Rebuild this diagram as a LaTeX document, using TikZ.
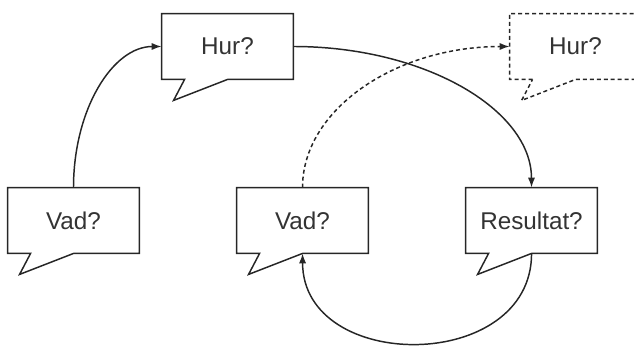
\documentclass[tikz,border=0pt]{standalone}
\usepackage{fontspec}
\setmainfont{Liberation Sans}
\usetikzlibrary{arrows.meta,calc}

\newcommand{\talkbox}[4][]{%
  \node[box] (#2) at (#3) {#4};
  \draw[#1] ($(#2.south west)+(23,0)$) -- (#2.south west) -- (#2.north west)
    -- (#2.north east) -- (#2.south east) -- ($(#2.south west)+(66,0)$) coordinate (#2-tail)
    -- ($(#2.south west)+(12,-21)$) -- cycle;
}

\begin{document}
\begin{tikzpicture}[x=0.016667cm,y=0.016667cm,
  box/.style={minimum width=2.183cm,minimum height=1.083cm,inner sep=0pt,
    font=\fontsize{11.5}{13}\selectfont,text=black!80},
  line/.style={line width=0.7pt,black!85},
  arr/.style={line,-{Latex[length=4.7pt,width=3.4pt]}},
  dots/.style={dash pattern=on 1.9pt off 1.4pt}]
  \clip (0,0) rectangle (634,-345);
  \talkbox[line]{vad1}{73.5,-220.5}{Vad?}
  \talkbox[line]{hur1}{227.5,-46.5}{Hur?}
  \talkbox[line,dots]{hur2}{575.5,-46.5}{Hur?}
  \talkbox[line]{vad2}{302.5,-220.5}{Vad?}
  \talkbox[line]{res}{531.5,-220.5}{Resultat?}
  \draw[arr] (vad1.north) .. controls +(0,78) and +(-49,0) .. (hur1.west);
  \draw[arr] (hur1.east) .. controls +(131,0) and +(0,78) .. (res.north);
  \draw[arr,dots] (vad2.north) .. controls +(0,78) and +(-114,0) .. (hur2.west);
  \draw[arr] (res-tail) .. controls +(0,-120) and +(0,-120) .. (vad2-tail);
\end{tikzpicture}
\end{document}
